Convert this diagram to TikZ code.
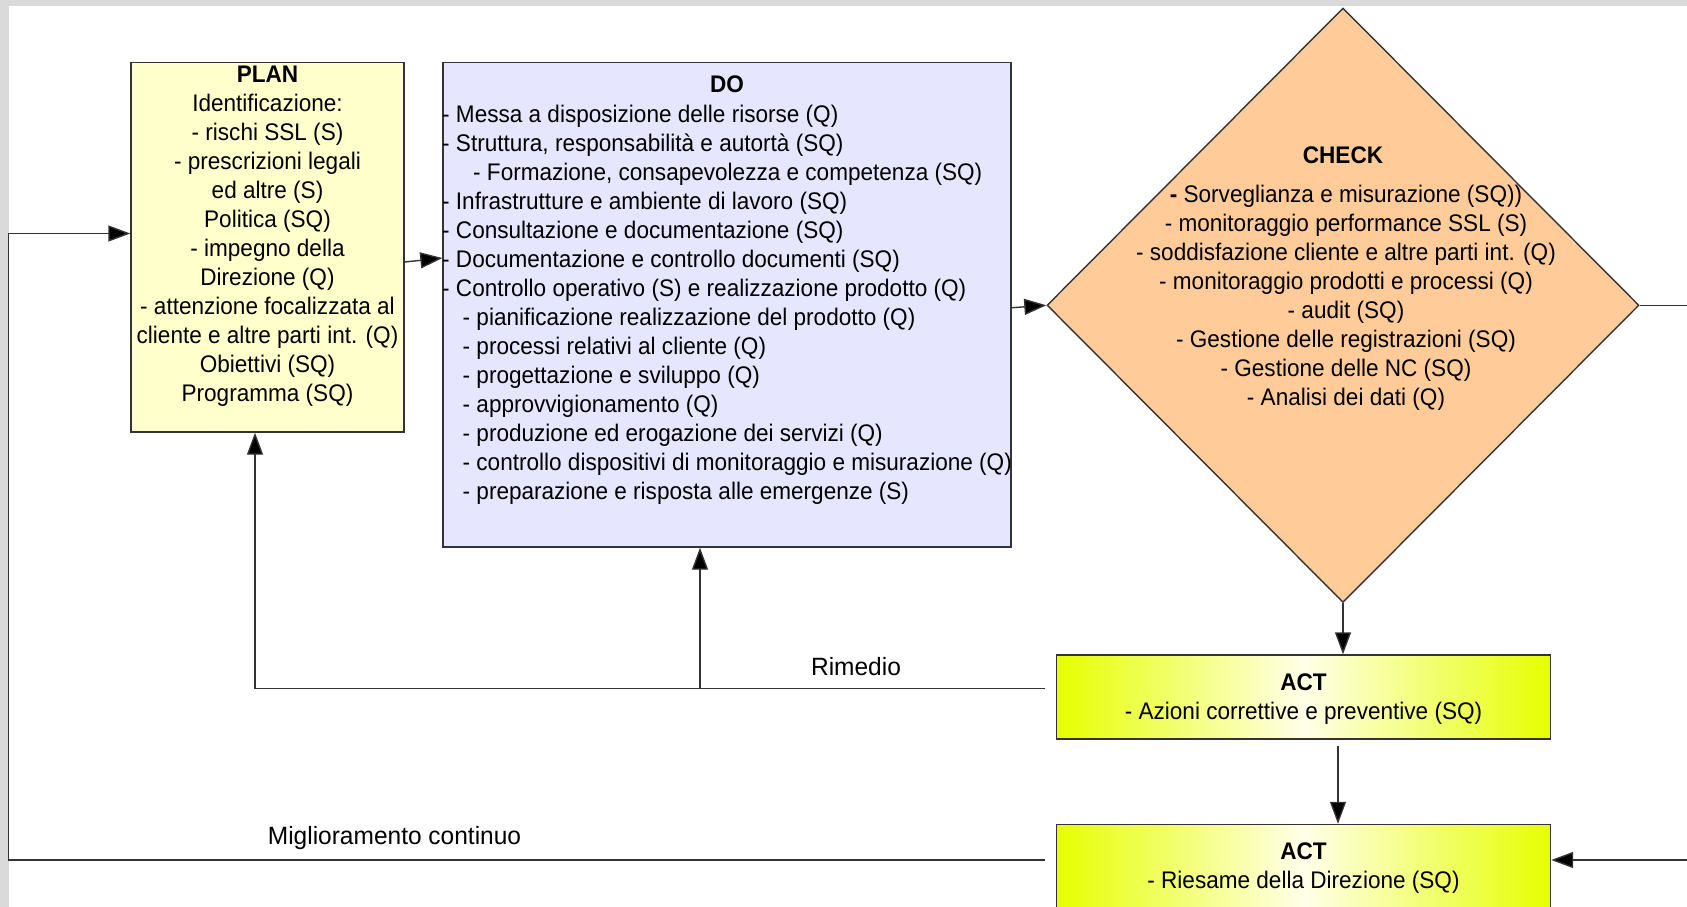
\documentclass[tikz,border=0pt]{standalone}
\usepackage{fontspec}
\setmainfont{Liberation Sans}[FakeStretch=0.94]
\newfontfamily\labelfont{Liberation Sans}[FakeStretch=0.98]
\usetikzlibrary{shapes.geometric,arrows.meta,calc}

\definecolor{planfill}{RGB}{255,255,204}
\definecolor{dofill}{RGB}{230,230,255}
\definecolor{checkfill}{RGB}{255,204,153}
\definecolor{actedge}{RGB}{230,255,0}
\definecolor{actmid}{RGB}{255,255,232}
\definecolor{framegray}{RGB}{218,218,218}
\definecolor{edgegray}{RGB}{51,51,51}

\begin{document}
\begin{tikzpicture}[x=1pt,y=-1pt,
  box/.style={draw=edgegray, line width=1.4pt, inner sep=0pt},
  txt/.style={inner sep=0pt, font=\fontsize{24}{29}\selectfont},
  lbl/.style={inner sep=0pt, font=\labelfont\fontsize{25}{30}\selectfont},
  conn/.style={draw=edgegray, line width=1.4pt},
  arr/.style={conn, -{Triangle[length=22pt,width=16pt,fill=black]}},
]
\useasboundingbox (0,0) rectangle (1687,907);
% window frame
\fill[framegray] (0,0) rectangle (1687,907);
\fill[white] (8.5,6) rectangle (1687,907);

% ---- PLAN ----
\node[box, fill=planfill, minimum width=273pt, minimum height=369.5pt] (plan) at (267.5,247.25) {};
\node[txt, align=center, anchor=north] (plantxt) at (267.5,61.9)
  {\strut\textbf{PLAN}\\Identificazione:\\- rischi SSL (S)\\- prescrizioni legali\\ed altre (S)\\Politica (SQ)\\- impegno della\\Direzione (Q)\\- attenzione focalizzata al\\cliente e altre parti int. (Q)\\Obiettivi (SQ)\\Programma (SQ)};

% ---- DO ----
\node[box, fill=dofill, minimum width=568pt, minimum height=484.5pt] (do) at (727,304.75) {};
\node[txt, anchor=north] (dotitle) at (727,72.3) {\strut\textbf{DO}};
\node[txt, align=left, anchor=north west] (dolist) at (442,102.4)
  {\strut- Messa a disposizione delle risorse (Q)\\
   - Struttura, responsabilità e autortà (SQ)\\
   \hspace*{31pt}- Formazione, consapevolezza e competenza (SQ)\\
   - Infrastrutture e ambiente di lavoro (SQ)\\
   - Consultazione e documentazione (SQ)\\
   - Documentazione e controllo documenti (SQ)\\
   - Controllo operativo (S) e realizzazione prodotto (Q)\\
   \hspace*{20.5pt}- pianificazione realizzazione del prodotto (Q)\\
   \hspace*{20.5pt}- processi relativi al cliente (Q)\\
   \hspace*{20.5pt}- progettazione e sviluppo (Q)\\
   \hspace*{20.5pt}- approvvigionamento (Q)\\
   \hspace*{20.5pt}- produzione ed erogazione dei servizi (Q)\\
   \hspace*{20.5pt}- controllo dispositivi di monitoraggio e misurazione (Q)\\
   \hspace*{20.5pt}- preparazione e risposta alle emergenze (S)};

% ---- CHECK ----
\node[box, diamond, fill=checkfill, minimum width=592pt, minimum height=594.5pt] (check) at (1343,305.25) {};
\node[txt, anchor=north] (checktitle) at (1343,142.5) {\strut\textbf{CHECK}};
\node[txt, align=center, anchor=north] (checklist) at (1346,182)
  {\strut\textbf{-} Sorveglianza e misurazione (SQ))\\
   - monitoraggio performance SSL (S)\\
   - soddisfazione cliente e altre parti int. (Q)\\
   - monitoraggio prodotti e processi (Q)\\
   - audit (SQ)\\
   - Gestione delle registrazioni (SQ)\\
   - Gestione delle NC (SQ)\\
   - Analisi dei dati (Q)};

% ---- ACT ----
\node[box, txt, align=center, left color=actedge, right color=actedge, middle color=actmid,
      minimum width=494pt, minimum height=84pt] (act1) at (1303.5,697)
  {\strut\textbf{ACT}\\- Azioni correttive e preventive (SQ)};
\node[box, txt, align=center, left color=actedge, right color=actedge, middle color=actmid,
      minimum width=494pt, minimum height=84pt] (act2) at (1303.5,866.5)
  {\strut\textbf{ACT}\\- Riesame della Direzione (SQ)};

% ---- labels ----
\node[lbl] (rimlabel) at (856,667) {Rimedio};
\node[lbl] (miglabel) at (394.5,838) {Miglioramento continuo};

% ---- helper points ----
\coordinate (rimjoin) at (700,688.6);
\coordinate (migcorner) at (8.5,233.5);
\coordinate (rightedge) at (1690,0);
\coordinate (act2in) at ([yshift=6.5pt]act2.east);

% ---- connectors ----
\draw[arr] ([yshift=-14.75pt]plan.east) -- ([yshift=46.75pt]do.west);
\draw[arr] ([yshift=-3pt]do.east) -- (check.west);
\draw[arr] (check.south) -- (check.south |- act1.north);
\draw[arr] ([xshift=34.5pt,yshift=-6pt]act1.south) -- ([xshift=34.5pt]act2.north);
\draw[arr] ([xshift=-10.5pt,yshift=8.4pt]act1.west) -| ([xshift=-12.5pt]plan.south);
\draw[arr] (rimjoin) -- (rimjoin |- do.south);
\draw[arr] ([xshift=-10.5pt,yshift=6.5pt]act2.west) -| (migcorner) -- ([yshift=13.75pt]plan.west);
\draw[conn] (check.east) -- (check.east -| rightedge);
\draw[arr] (act2in -| rightedge) -- (act2in);
\end{tikzpicture}
\end{document}
